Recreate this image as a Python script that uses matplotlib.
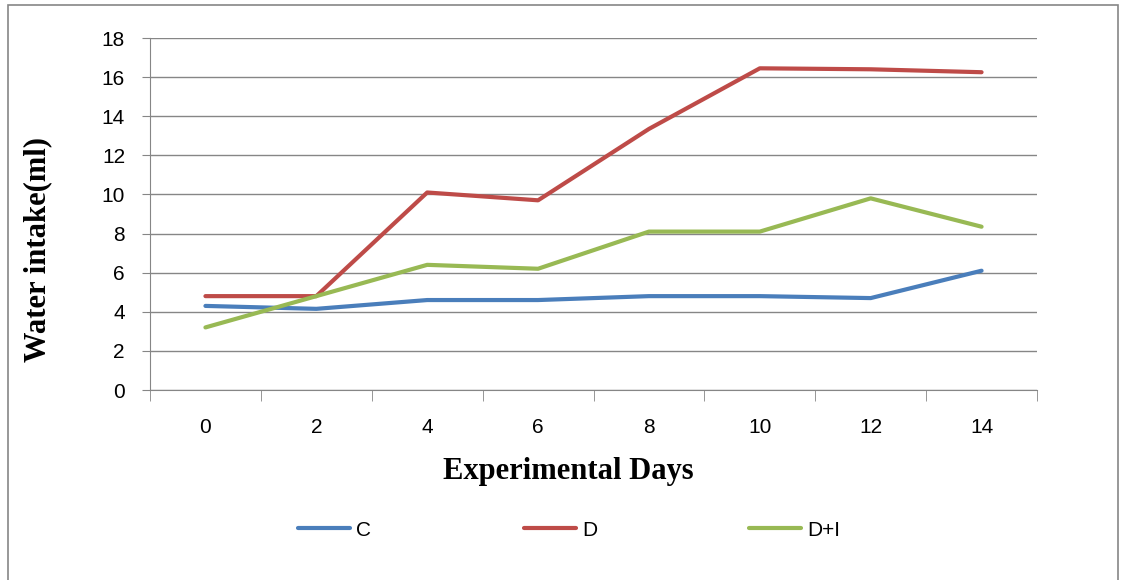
import matplotlib
matplotlib.use("Agg")
import matplotlib.pyplot as plt
from matplotlib.patches import Rectangle
import numpy as np

days = ["0", "2", "4", "6", "8", "10", "12", "14"]
c_vals = [4.3, 4.15, 4.6, 4.6, 4.8, 4.8, 4.7, 6.1]
d_vals = [4.8, 4.8, 10.1, 9.7, 13.35, 16.45, 16.4, 16.25]
di_vals = [3.2, 4.8, 6.4, 6.2, 8.1, 8.1, 9.8, 8.35]

GRAY = "#868686"
TICK_FONT = ["Liberation Sans Narrow", "Liberation Sans", "DejaVu Sans"]

fig = plt.figure(figsize=(11.25, 5.8), dpi=100)
ax = fig.add_axes([150 / 1125, 1 - 390 / 580, 887 / 1125, 352 / 580])

x = np.arange(len(days))
ax.plot(x, c_vals, color="#4A7EBB", lw=3, label="C", solid_capstyle="round")
ax.plot(x, d_vals, color="#BE4B48", lw=3, label="D", solid_capstyle="round")
ax.plot(x, di_vals, color="#98B954", lw=3, label="D+I", solid_capstyle="round")

ax.set_xlim(-0.5, len(days) - 0.5)
ax.set_ylim(0, 18)
ax.set_yticks(range(0, 19, 2))
ax.set_xticks(x)
ax.set_xticklabels(days)
ax.set_xticks(np.arange(-0.5, len(days)), minor=True)
ax.tick_params(axis="x", which="major", length=0, pad=20, labelsize=15)
ax.tick_params(axis="x", which="minor", length=8, color=GRAY, direction="out")
ax.tick_params(axis="y", length=6, color=GRAY, pad=12, labelsize=15)
for lab in ax.get_xticklabels() + ax.get_yticklabels():
    lab.set_family(TICK_FONT)

ax.grid(axis="y", color=GRAY, lw=1)
ax.set_axisbelow(True)
for side in ["top", "right"]:
    ax.spines[side].set_visible(False)
for side in ["left", "bottom"]:
    ax.spines[side].set_color(GRAY)

ax.set_xlabel("Experimental Days", family="Liberation Serif", fontweight="bold",
              fontsize=22)
ax.xaxis.set_label_coords((568 - 150) / 887, (390 - 457) / 352)
ax.set_ylabel("Water intake(ml)", family="Liberation Serif", fontweight="bold",
              fontsize=22)
ax.yaxis.set_label_coords((52 - 150) / 887, (390 - 250) / 352)

leg = fig.legend(loc="center", bbox_to_anchor=(0.506, 1 - 530 / 580), ncol=3,
                 frameon=False, handlelength=2.5, columnspacing=7.3,
                 handletextpad=0.3, prop={"family": TICK_FONT, "size": 15})

fig.patches.append(Rectangle((8 / 1125, -0.05), 1110 / 1125, 0.991 + 0.05,
                             transform=fig.transFigure, fill=False,
                             edgecolor=GRAY, lw=1.2))

fig.savefig("out.png", dpi=100)
